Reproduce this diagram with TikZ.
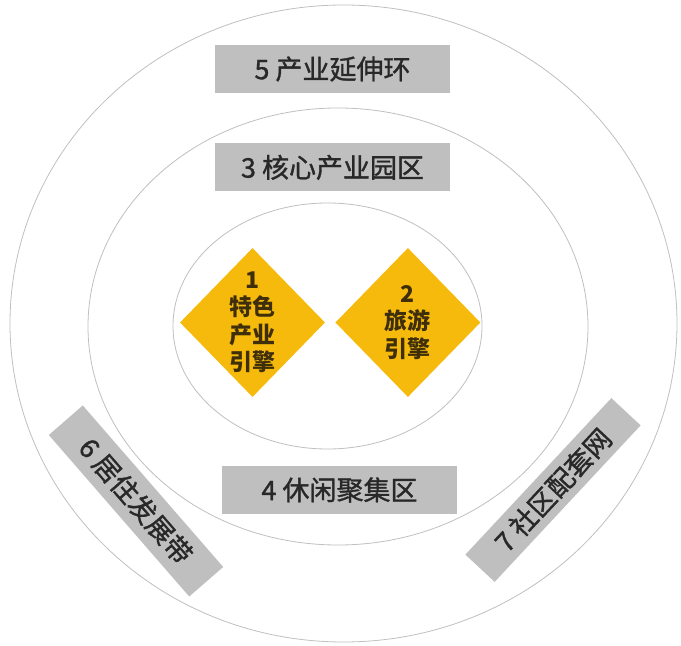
\documentclass[tikz,border=0pt]{standalone}
\usepackage{fontspec}
\newfontfamily\cjk{Noto Sans CJK SC}
\newfontfamily\cjkzone[FakeBold=1.2]{Noto Sans CJK SC}
\usepackage{tikz}
\usetikzlibrary{shapes.geometric, positioning}
\definecolor{engineyellow}{RGB}{246,186,12}
\definecolor{enginetext}{RGB}{62,46,10}
\definecolor{zonegray}{RGB}{191,191,191}
\definecolor{zonetext}{RGB}{40,40,40}
\definecolor{ringgray}{RGB}{192,192,192}

\begin{document}
\begin{tikzpicture}[
            x=1pt, y=1pt,
            ring/.style={draw=ringgray, line width=0.8pt},
            zone/.style={rectangle, fill=zonegray, minimum width=235pt, minimum height=48pt, inner sep=0pt, text=zonetext, font=\cjkzone\fontsize{27}{30}\selectfont},
            engine/.style={diamond, fill=engineyellow, minimum width=145pt, minimum height=149pt, inner sep=0pt},
            enginelbl/.style={align=center, text=enginetext, font=\cjk\bfseries\fontsize{23}{27.5}\selectfont}
        ]
        \useasboundingbox[fill=white] (0,0) rectangle (681,646);

        % Rings
        \draw[ring] (343.5,322.5) ellipse [x radius=333.5pt, y radius=318.5pt];
        \draw[ring] (338,319.5) ellipse [x radius=250pt, y radius=218.5pt];
        \draw[ring] (327.5,320) ellipse [x radius=154.5pt, y radius=123pt];

        % Engines
        \node[engine] (e1) at (252.5,323.5) {};
        \node[engine, right=10pt of e1] (e2) {};
        \node[enginelbl] (e1lbl) at (e1) {1\\特色\\产业\\引擎};
        \node[enginelbl] (e2lbl) at (e2) {2\\旅游\\引擎};

        % Zones
        \node[zone] (z5) at (332.5,577) {5 产业延伸环};
        \node[zone, below=50pt of z5] (z3) {3 核心产业园区};
        \node[zone] (z4) at (339.5,156) {4 休闲聚集区};
        \node[zone, minimum width=214pt, minimum height=45pt, rotate=-49] (z6) at (136,145) {6 居住发展带};
        \node[zone, minimum width=214pt, minimum height=40pt, rotate=47] (z7) at (553,156) {7 社区配套网};
    \end{tikzpicture}
\end{document}
